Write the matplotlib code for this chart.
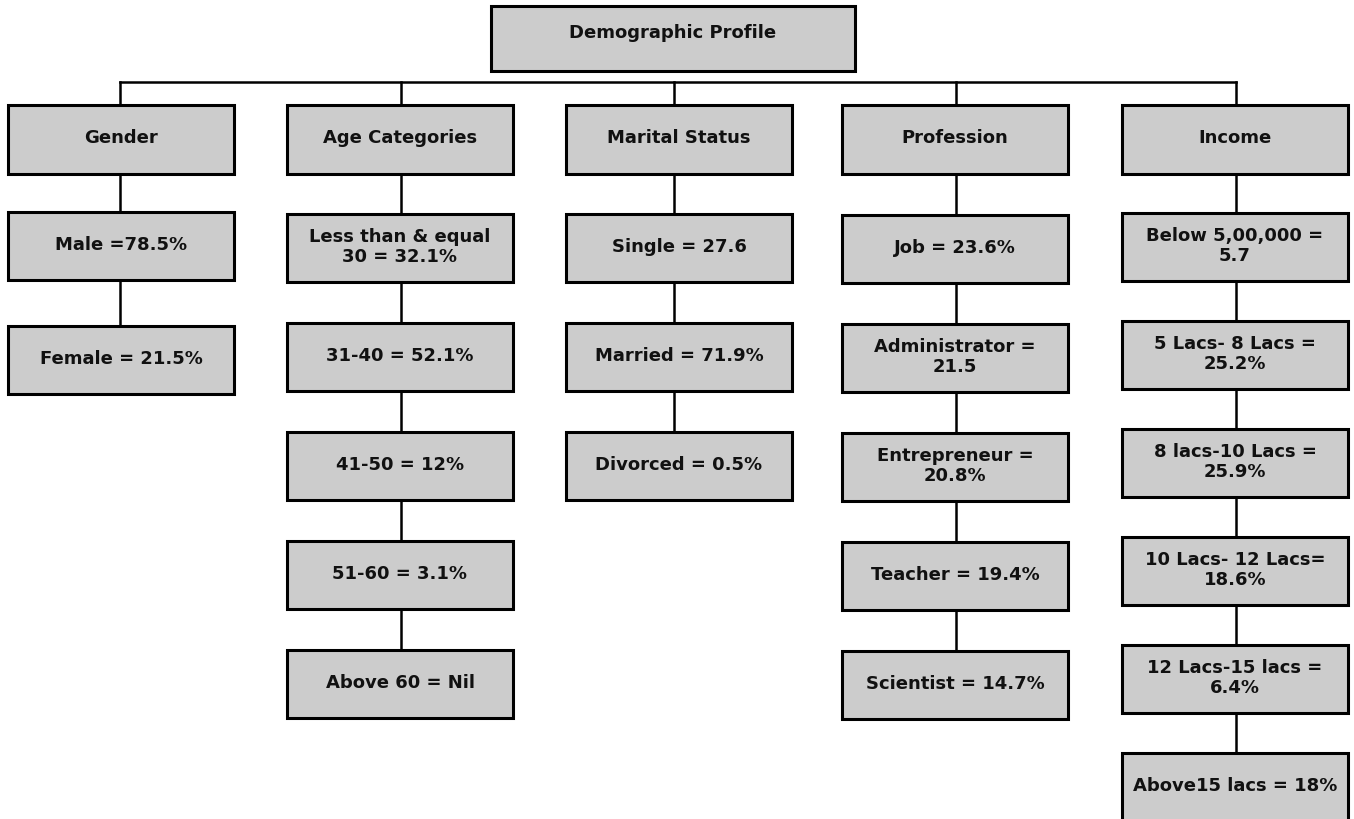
import matplotlib.pyplot as plt
from matplotlib.patches import Rectangle

# ---- chart text ----
root_label = "Demographic Profile"
categories = ["Gender", "Age Categories", "Marital Status", "Profession", "Income"]
gender = ["Male =78.5%", "Female = 21.5%"]
age = ["Less than & equal\n30 = 32.1%", "31-40 = 52.1%", "41-50 = 12%",
       "51-60 = 3.1%", "Above 60 = Nil"]
marital = ["Single = 27.6", "Married = 71.9%", "Divorced = 0.5%"]
profession = ["Job = 23.6%", "Administrator =\n21.5", "Entrepreneur =\n20.8%",
              "Teacher = 19.4%", "Scientist = 14.7%"]
income = ["Below 5,00,000 =\n5.7", "5 Lacs- 8 Lacs =\n25.2%", "8 lacs-10 Lacs =\n25.9%",
          "10 Lacs- 12 Lacs=\n18.6%", "12 Lacs-15 lacs =\n6.4%", "Above15 lacs = 18%"]
children = [gender, age, marital, profession, income]

# ---- layout (pixels, y down) ----
W, H = 1354, 820
BOX_W, BOX_H = 226, 68
col_left = [8, 287, 566, 842, 1122]
col_line = [120, 401, 674, 956, 1236]
first_top = [213, 215, 215, 216, 214]
row_step = [114, 109, 109, 109, 108]
cat_top = 106
bus_y = 83
root_box = (491, 7, 364, 65)

FILL = "#cccccc"
EDGE_LW = 2.2
LINE_LW = 1.8
FONT = dict(fontsize=13, fontweight="bold", family="DejaVu Sans",
            ha="center", va="center", linespacing=1.1, color="#111111")


def box(ax, x, y, w, h, text, ty=None):
    ax.add_patch(Rectangle((x, y), w, h, facecolor=FILL, edgecolor="black",
                           linewidth=EDGE_LW, zorder=3))
    if ty is None:
        ty = y + h / 2 - 2
    ax.text(x + w / 2, ty, text, zorder=4, **FONT)


fig = plt.figure(figsize=(W / 100, H / 100), dpi=100)
ax = fig.add_axes([0, 0, 1, 1])
ax.set_xlim(0, W)
ax.set_ylim(H, 0)
ax.axis("off")

# root
rx, ry, rw, rh = root_box
box(ax, rx, ry, rw, rh, root_label, ty=ry + 26)

# horizontal bus
ax.plot([col_line[0], col_line[-1]], [bus_y, bus_y], color="black", lw=LINE_LW, zorder=1)

for i, cat in enumerate(categories):
    lx = col_line[i]
    items = children[i]
    tops = [first_top[i] + row_step[i] * k for k in range(len(items))]
    # vertical connector down the column
    ax.plot([lx, lx], [bus_y, tops[-1]], color="black", lw=LINE_LW, zorder=1)
    box(ax, col_left[i], cat_top, BOX_W, 69, cat, ty=cat_top + 32)
    for k, label in enumerate(items):
        box(ax, col_left[i], tops[k], BOX_W, BOX_H, label)

fig.savefig("out.png", dpi=100)
